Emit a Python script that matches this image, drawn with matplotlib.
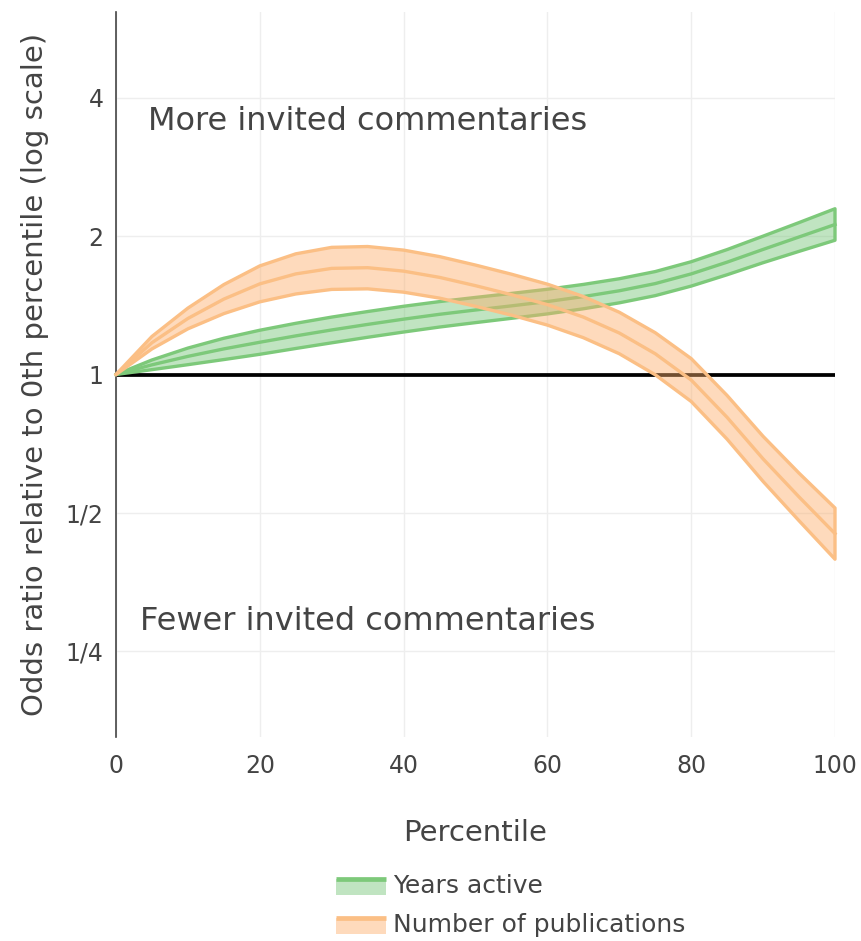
import matplotlib
matplotlib.use('Agg')
import matplotlib.pyplot as plt
from matplotlib.legend_handler import HandlerBase
from matplotlib.patches import Patch, Rectangle
from matplotlib.lines import Line2D
import numpy as np

plt.rcParams['font.family'] = ['DejaVu Sans']

# percentile grid the model was evaluated on
percentile = [0, 5, 10, 15, 20, 25, 30, 35, 40, 45, 50,
              55, 60, 65, 70, 75, 80, 85, 90, 95, 100]

# odds ratios relative to the 0th percentile: estimate and band edges
years_mid = [1.0, 1.0497, 1.0951, 1.1369, 1.1753, 1.2134, 1.2501, 1.2852, 1.3195, 1.3520, 1.3814,
             1.4104, 1.4411, 1.4775, 1.5211, 1.5769, 1.6553, 1.7557, 1.8712, 1.9917, 2.1199]
years_lo = [1.0, 1.0246, 1.0504, 1.0777, 1.1065, 1.1392, 1.1720, 1.2050, 1.2371, 1.2684, 1.2968,
            1.3250, 1.3547, 1.3899, 1.4319, 1.4845, 1.5572, 1.6483, 1.7508, 1.8532, 1.9591]
years_hi = [1.0, 1.0755, 1.1416, 1.1991, 1.2483, 1.2923, 1.3333, 1.3708, 1.4074, 1.4409, 1.4712,
            1.5011, 1.5326, 1.5703, 1.6155, 1.6748, 1.7593, 1.8700, 2.0000, 2.1406, 2.2943]

pubs_mid = [1.0, 1.1728, 1.3241, 1.4590, 1.5746, 1.6552, 1.7017, 1.7076, 1.6783, 1.6268, 1.5605,
            1.4917, 1.4191, 1.3333, 1.2311, 1.1096, 0.9727, 0.8066, 0.6552, 0.5415, 0.4506]
pubs_lo = [1.0, 1.1368, 1.2570, 1.3566, 1.4390, 1.4969, 1.5315, 1.5358, 1.5105, 1.4661, 1.4074,
           1.3463, 1.2808, 1.2025, 1.1096, 0.9986, 0.8736, 0.7230, 0.5852, 0.4806, 0.3964]
pubs_hi = [1.0, 1.2100, 1.3947, 1.5692, 1.7230, 1.8303, 1.8908, 1.8987, 1.8648, 1.8050, 1.7302,
           1.6529, 1.5724, 1.4783, 1.3660, 1.2329, 1.0830, 0.9000, 0.7336, 0.6100, 0.5123]

y_ticks = [0.25, 0.5, 1, 2, 4]
y_ticklabels = ['1/4', '1/2', '1', '2', '4']
x_ticks = [0, 20, 40, 60, 80, 100]

series = [
    ('Years active', years_mid, years_lo, years_hi,
     (116/255, 196/255, 118/255, 0.45), (125/255, 201/255, 122/255)),
    ('Number of publications', pubs_mid, pubs_lo, pubs_hi,
     (253/255, 174/255, 107/255, 0.45), (251/255, 191/255, 133/255)),
]

TEXT = '#444444'


class BandHandler(HandlerBase):
    # legend key: fill swatch with the line running along its top
    def create_artists(self, legend, orig_handle, xdescent, ydescent,
                       width, height, fontsize, trans):
        y0 = -ydescent
        top = y0 + height * 0.75
        rect = Rectangle((-xdescent, y0), width, top - y0,
                         facecolor=orig_handle.get_facecolor(),
                         edgecolor='none', transform=trans)
        line = Line2D([-xdescent, -xdescent + width], [top, top],
                      color=orig_handle.get_edgecolor(), lw=3.4,
                      transform=trans, solid_capstyle='butt')
        return [rect, line]


fig = plt.figure(figsize=(8.62, 9.41), dpi=100)
ax = fig.add_axes([116/862, (941-737)/941, (835-116)/862, 725/941])

ax.set_yscale('log', base=2)
ax.set_xlim(0, 100)
ax.set_ylim(2 ** -2.62, 2 ** 2.62)

# reference line at odds ratio 1
ax.plot([0, 100], [1, 1], color='black', lw=2.7, zorder=2)

handles = []
for name, mid, lo, hi, fill, edge in series:
    x = np.array(percentile)
    xs = np.concatenate([x, x[::-1]])
    ys = np.concatenate([np.array(hi), np.array(lo)[::-1]])
    ax.fill(xs, ys, facecolor=fill, edgecolor=edge, lw=2.4,
            joinstyle='round', clip_on=False, zorder=3)
    ax.plot(x, mid, color=edge, lw=2.4, clip_on=False, zorder=3)
    handles.append(Patch(facecolor=fill, edgecolor=edge, label=name))

ax.set_yticks(y_ticks)
ax.set_yticklabels(y_ticklabels)
ax.yaxis.set_minor_locator(matplotlib.ticker.NullLocator())
ax.set_xticks(x_ticks)
ax.tick_params(axis='both', length=0, labelsize=17, colors=TEXT)
ax.tick_params(axis='x', pad=12)
ax.tick_params(axis='y', pad=9)

ax.grid(True, color='#eeeeee', lw=1)
ax.set_axisbelow(True)
for side in ['top', 'right', 'bottom']:
    ax.spines[side].set_visible(False)
ax.spines['left'].set_color(TEXT)
ax.spines['left'].set_linewidth(1.2)

ax.set_xlabel('Percentile', fontsize=21, color=TEXT, labelpad=30)
ax.set_ylabel('Odds ratio relative to 0th percentile (log scale)',
              fontsize=21, color=TEXT, labelpad=12)

ax.text(4.5, 3.55, 'More invited commentaries', fontsize=23,
        color=TEXT, va='center', ha='left')
ax.text(3.4, 0.29, 'Fewer invited commentaries', fontsize=23,
        color=TEXT, va='center', ha='left')

fig.legend(handles=handles, loc='upper left',
           bbox_to_anchor=(336/862, 1 - 874/941),
           handler_map={Patch: BandHandler()},
           frameon=False, fontsize=18, labelcolor=TEXT,
           handlelength=2.0, handleheight=0.9, handletextpad=0.3,
           borderpad=0, borderaxespad=0, labelspacing=0.6)

fig.savefig('out.png', dpi=100)
